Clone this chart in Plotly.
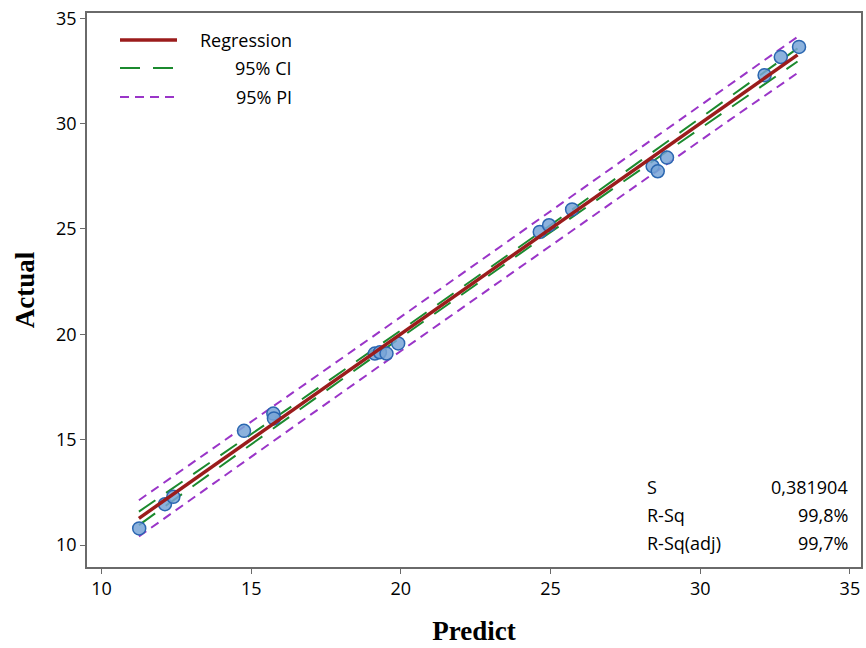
import plotly.graph_objects as go

# Observed points (Predict, Actual)
predict = [11.26, 12.12, 12.40, 14.76, 15.74, 15.76, 19.13, 19.30, 19.52, 19.91,
           24.64, 24.95, 25.72, 28.41, 28.58, 28.89, 32.15, 32.69, 33.30]
actual = [10.79, 11.94, 12.29, 15.42, 16.24, 16.01, 19.09, 19.15, 19.09, 19.57,
          24.86, 25.18, 25.93, 27.98, 27.74, 28.39, 32.30, 33.16, 33.64]

# Fitted line and band half-widths
fit_x = [11.25, 14.0, 17.0, 20.0, 22.5, 25.0, 28.0, 31.0, 33.25]
fit_y = [11.27, 14.02, 17.02, 20.02, 22.52, 25.02, 28.02, 31.02, 33.26]
ci_half = [0.32, 0.25, 0.20, 0.17, 0.16, 0.17, 0.21, 0.26, 0.31]
pi_half = [0.86, 0.83, 0.82, 0.81, 0.81, 0.81, 0.82, 0.83, 0.86]

legend_names = ["Regression", "95% CI", "95% PI"]
stat_names = ["S", "R-Sq", "R-Sq(adj)"]
stat_values = ["0,381904", "99,8%", "99,7%"]

x_ticks = [10, 15, 20, 25, 30, 35]
y_ticks = [10, 15, 20, 25, 30, 35]

RED = "#9b1c1c"
GREEN = "#1b8a2e"
PURPLE = "#9a35c8"
TXT = "Open Sans"
RED_W, CI_W, PI_W = 3.5, 2, 2
CI_DASH, PI_DASH = "20px,13px", "9px,6px"

ci_lo = [y - h for y, h in zip(fit_y, ci_half)]
ci_hi = [y + h for y, h in zip(fit_y, ci_half)]
pi_lo = [y - h for y, h in zip(fit_y, pi_half)]
pi_hi = [y + h for y, h in zip(fit_y, pi_half)]

fig = go.Figure()

fig.add_trace(go.Scatter(x=fit_x, y=pi_hi, mode="lines", name="95% PI", showlegend=False,
                         line=dict(color=PURPLE, width=PI_W, dash=PI_DASH)))
fig.add_trace(go.Scatter(x=fit_x, y=pi_lo, mode="lines", showlegend=False,
                         line=dict(color=PURPLE, width=PI_W, dash=PI_DASH)))
fig.add_trace(go.Scatter(x=fit_x, y=ci_hi, mode="lines", name="95% CI", showlegend=False,
                         line=dict(color=GREEN, width=CI_W, dash=CI_DASH)))
fig.add_trace(go.Scatter(x=fit_x, y=ci_lo, mode="lines", showlegend=False,
                         line=dict(color=GREEN, width=CI_W, dash=CI_DASH)))
fig.add_trace(go.Scatter(x=predict, y=actual, mode="markers", showlegend=False,
                         marker=dict(size=13, color="rgba(120,165,215,0.85)",
                                     line=dict(color="#2a66b0", width=1.5))))
fig.add_trace(go.Scatter(x=fit_x, y=fit_y, mode="lines", name="Regression", showlegend=False,
                         line=dict(color=RED, width=RED_W)))

# plot area in pixels
L, R, T, B = 87, 861, 13, 567
W, H = R - L, B - T


def px(x):
    return (x - L) / W


def py(y):
    return (B - y) / H


# Custom legend (right-aligned labels as in the original)
leg_rows = [40, 68, 97]
leg_styles = [(RED, RED_W, "solid"), (GREEN, CI_W, CI_DASH), (PURPLE, PI_W, PI_DASH)]
for name, yy, (col, w, d) in zip(legend_names, leg_rows, leg_styles):
    fig.add_shape(type="line", xref="paper", yref="paper",
                  x0=px(120), x1=px(177), y0=py(yy), y1=py(yy),
                  line=dict(color=col, width=w, dash=d))
    fig.add_annotation(xref="paper", yref="paper", x=px(294), y=py(yy), text=name,
                       showarrow=False, xanchor="right", yanchor="middle",
                       font=dict(family=TXT, size=18, color="black"))

# Stats table annotations
row_y = [487, 515, 543]
for name, val, yy in zip(stat_names, stat_values, row_y):
    fig.add_annotation(xref="paper", yref="paper", x=px(645), y=py(yy), text=name,
                       showarrow=False, xanchor="left", yanchor="middle",
                       font=dict(family=TXT, size=18, color="black"))
    fig.add_annotation(xref="paper", yref="paper", x=px(850), y=py(yy), text=val,
                       showarrow=False, xanchor="right", yanchor="middle",
                       font=dict(family=TXT, size=18, color="black"))

axis_common = dict(showline=True, linecolor="#6a6a6a", linewidth=1.5, mirror=True,
                   showgrid=False, zeroline=False, ticks="outside", ticklen=5,
                   tickcolor="#6a6a6a", automargin=False,
                   tickfont=dict(family=TXT, size=18, color="black"))

fig.update_layout(
    width=866, height=648,
    margin=dict(l=L, r=866 - R, t=T, b=648 - B, autoexpand=False),
    plot_bgcolor="white", paper_bgcolor="white",
    showlegend=False,
    xaxis=dict(range=[9.516, 35.37], tickvals=x_ticks,
               title=dict(text="<b>Predict</b>", standoff=22,
                          font=dict(family="Liberation Serif", size=27, color="black")),
               **axis_common),
    yaxis=dict(range=[8.96, 35.25], tickvals=y_ticks,
               title=dict(text="<b>Actual</b>", standoff=14,
                          font=dict(family="Liberation Serif", size=27, color="black")),
               **axis_common),
)

fig.write_html("out.html", config={"displayModeBar": False},
               post_script="document.body.style.margin='0px';document.body.style.overflow='hidden';")
